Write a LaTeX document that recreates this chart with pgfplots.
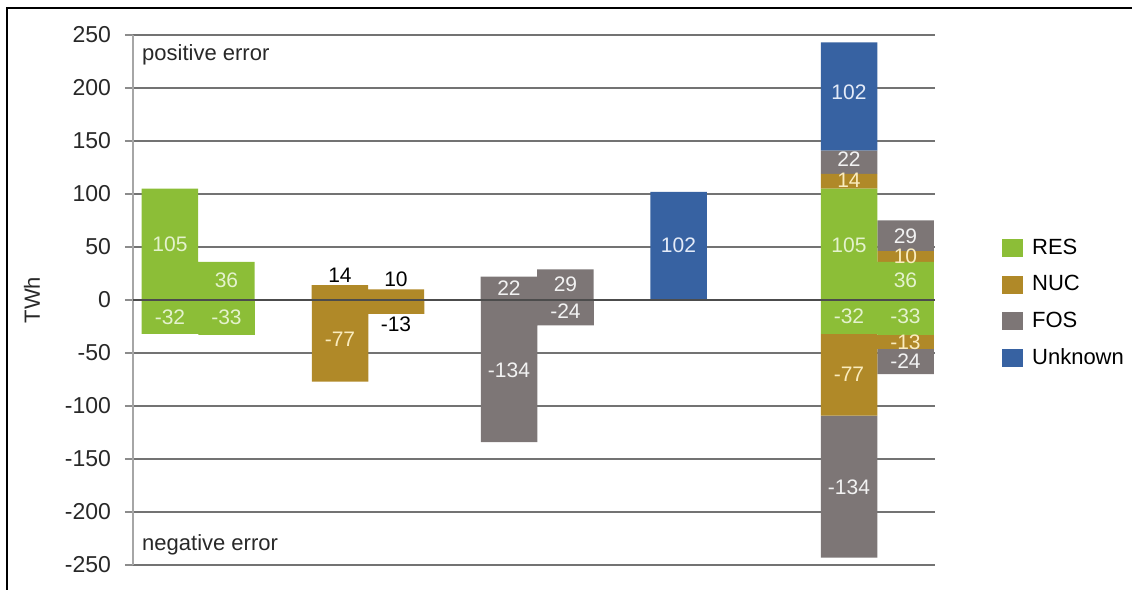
\documentclass[border=0pt]{standalone}
\usepackage{fontspec}
\setmainfont{Liberation Sans}
\usepackage{pgfplots}
\usepackage{pgfplotstable}
\pgfplotsset{compat=1.18}
\definecolor{resc}{RGB}{140,190,55}
\definecolor{nucc}{RGB}{176,137,40}
\definecolor{fosc}{RGB}{125,118,118}
\definecolor{unkc}{RGB}{55,98,162}
\definecolor{reslab}{RGB}{228,242,205}
\definecolor{nuclab}{RGB}{250,236,190}
\definecolor{foslab}{RGB}{242,242,242}
\definecolor{unklab}{RGB}{228,235,248}
\definecolor{txt}{RGB}{40,40,40}

\pgfplotstableread{
x     res nuc fos unk
170   105 0   0   0
226.5 36  0   0   0
340   0   14  0   0
396   0   10  0   0
509   0   0   22  0
565.5 0   0   29  0
678.5 0   0   0   102
849   105 14  22  102
905.5 36  10  29  0
}\posdata

\pgfplotstableread{
x     res nuc fos
170   -32 0   0
226.5 -33 0   0
340   0   -77 0
396   0   -13 0
509   0   0   -134
565.5 0   0   -24
849   -32 -77 -134
905.5 -33 -13 -24
}\negdata

\pgfplotstableread{
x     y     lab
170   52.5  105
226.5 18.5  36
170   -16   -32
226.5 -16   -33
849   52    105
905.5 18.5  36
849   -15   -32
905.5 -15   -33
}\reslabels

\pgfplotstableread{
x     y     lab
340   -37   -77
849   113   14
905.5 41    10
849   -70.5 -77
905.5 -39.5 -13
}\nuclabels

\pgfplotstableread{
x     y     lab
340   23.5  14
396   20    10
396   -22.5 -13
}\blacklabels

\pgfplotstableread{
x     y     lab
509   11    22
565.5 15    29
509   -66   -134
565.5 -11   -24
849   133   22
905.5 60.5  29
849   -177  -134
905.5 -58   -24
}\foslabels

\pgfplotstableread{
x     y     lab
678.5 52    102
849   196   102
}\unklabels

\pgfplotsset{base/.style={scale only axis, width=401pt, height=265pt,
  xmin=133, xmax=935, ymin=-250, ymax=250, at={(0pt,0pt)}, anchor=south west}}

\begin{document}
\begin{tikzpicture}
\useasboundingbox (-66.5pt,-12.5pt) rectangle (499.5pt,282.5pt);
\draw[line width=0.9pt, black] (-63pt,-12.5pt) -- (-63pt,278.5pt) -- (499.5pt,278.5pt);

% axis 1: grid, ticks, positive stacks, legend
\begin{axis}[base,
  ybar stacked, bar width=56.5,
  axis x line=none, axis y line*=left,
  y axis line style={draw=black!35, line width=1pt},
  ymajorgrids, grid style={draw=black!55, line width=0.6pt},
  ytick={-250,-200,...,250}, xtick=\empty,
  tick align=outside, major tick length=4pt,
  ytick style={draw=black!45, line width=0.8pt},
  /pgf/number format/assume math mode=true,
  yticklabel style={font=\fontsize{11.5}{13}\selectfont, text=txt, xshift=-3.5pt},
  ylabel={TWh}, ylabel style={at={(axis description cs:-0.126,0.5)}, anchor=center, font=\fontsize{11}{13}\selectfont, text=txt},
  legend style={at={(1.0835,0.494)}, anchor=west, draw=none, fill=none,
    font=\fontsize{11}{13}\selectfont, row sep=5pt, inner sep=0pt,
    /tikz/every odd column/.append style={column sep=2.5pt}},
  legend cell align=left,
]
\addplot[fill=resc, draw=none, forget plot] table[x=x, y=res] {\posdata};
\addplot[fill=nucc, draw=none, forget plot] table[x=x, y=nuc] {\posdata};
\addplot[fill=fosc, draw=none, forget plot] table[x=x, y=fos] {\posdata};
\addplot[fill=unkc, draw=none, forget plot] table[x=x, y=unk] {\posdata};
\addlegendimage{legend image code/.code={\fill[resc] (0pt,-4.25pt) rectangle (10pt,4.25pt);}}
\addlegendentry{RES}
\addlegendimage{legend image code/.code={\fill[nucc] (0pt,-4.25pt) rectangle (10pt,4.25pt);}}
\addlegendentry{NUC}
\addlegendimage{legend image code/.code={\fill[fosc] (0pt,-4.25pt) rectangle (10pt,4.25pt);}}
\addlegendentry{FOS}
\addlegendimage{legend image code/.code={\fill[unkc] (0pt,-4.25pt) rectangle (10pt,4.25pt);}}
\addlegendentry{Unknown}
\end{axis}

% axis 2: negative stacks
\begin{axis}[base, hide axis, ybar stacked, bar width=56.5]
\addplot[fill=resc, draw=none] table[x=x, y=res] {\negdata};
\addplot[fill=nucc, draw=none] table[x=x, y=nuc] {\negdata};
\addplot[fill=fosc, draw=none] table[x=x, y=fos] {\negdata};
\end{axis}

% axis 3: zero line, labels and annotations
\begin{axis}[base, hide axis, clip=false,
  every node near coord/.append style={anchor=center, font=\fontsize{10.5}{12}\selectfont},
]
\addplot[draw=black!70, line width=0.6pt] coordinates {(133,0) (935,0)};
\addplot[draw=none, mark=none, nodes near coords, point meta=explicit symbolic,
  every node near coord/.append style={text=reslab}] table[x=x, y=y, meta=lab] {\reslabels};
\addplot[draw=none, mark=none, nodes near coords, point meta=explicit symbolic,
  every node near coord/.append style={text=nuclab}] table[x=x, y=y, meta=lab] {\nuclabels};
\addplot[draw=none, mark=none, nodes near coords, point meta=explicit symbolic,
  every node near coord/.append style={text=black}] table[x=x, y=y, meta=lab] {\blacklabels};
\addplot[draw=none, mark=none, nodes near coords, point meta=explicit symbolic,
  every node near coord/.append style={text=foslab}] table[x=x, y=y, meta=lab] {\foslabels};
\addplot[draw=none, mark=none, nodes near coords, point meta=explicit symbolic,
  every node near coord/.append style={text=unklab}] table[x=x, y=y, meta=lab] {\unklabels};
\node[anchor=west, font=\fontsize{11}{13}\selectfont, text=txt, inner sep=0pt] at (rel axis cs:0.011,0.962) {positive error};
\node[anchor=west, font=\fontsize{11}{13}\selectfont, text=txt, inner sep=0pt] at (rel axis cs:0.011,0.038) {negative error};
\end{axis}
\end{tikzpicture}
\end{document}
